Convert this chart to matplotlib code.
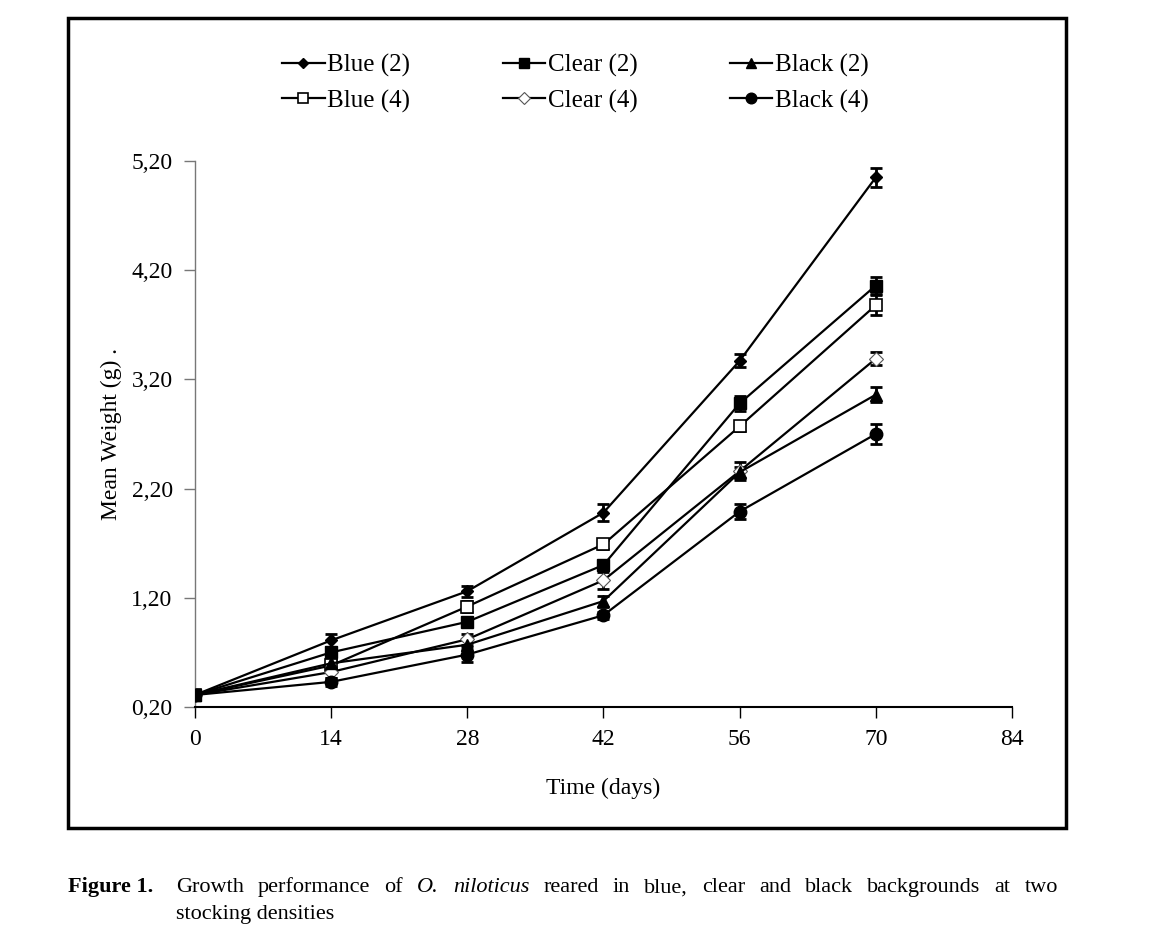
import matplotlib.pyplot as plt
from matplotlib.patches import Rectangle
from matplotlib.ticker import FuncFormatter

plt.rcParams['font.family'] = ['Liberation Serif', 'DejaVu Serif']

# Datos (peso medio en g)
days = [0, 14, 28, 42, 56, 70]
blue2 = [0.31, 0.81, 1.26, 1.98, 3.37, 5.05]
clear2 = [0.31, 0.70, 0.98, 1.50, 2.98, 4.06]
black2 = [0.31, 0.60, 0.77, 1.17, 2.35, 3.06]
blue4 = [0.31, 0.58, 1.12, 1.69, 2.77, 3.88]
clear4 = [0.31, 0.52, 0.82, 1.36, 2.36, 3.39]
black4 = [0.31, 0.43, 0.68, 1.04, 1.99, 2.70]

# desviaciones (barras de error)
blue2_err = [0.03, 0.06, 0.05, 0.08, 0.06, 0.09]
clear2_err = [0.03, 0.05, 0.04, 0.05, 0.07, 0.08]
black2_err = [0.03, 0.05, 0.05, 0.05, 0.05, 0.07]
blue4_err = [0.03, 0.05, 0.05, 0.04, 0.04, 0.09]
clear4_err = [0.03, 0.05, 0.05, 0.08, 0.08, 0.06]
black4_err = [0.03, 0.04, 0.07, 0.03, 0.07, 0.09]

# orden para que la leyenda quede en 3 columnas x 2 filas
series = [
    ("Blue (2)", blue2, blue2_err, dict(marker="D", ms=6, mfc="black", mec="black")),
    ("Blue (4)", blue4, blue4_err, dict(marker="s", ms=8, mfc="white", mec="black", mew=1.2)),
    ("Clear (2)", clear2, clear2_err, dict(marker="s", ms=8, mfc="black", mec="black")),
    ("Clear (4)", clear4, clear4_err, dict(marker="D", ms=7, mfc="white", mec="#555555", mew=0.8)),
    ("Black (2)", black2, black2_err, dict(marker="^", ms=8, mfc="black", mec="black")),
    ("Black (4)", black4, black4_err, dict(marker="o", ms=9, mfc="black", mec="black")),
]

fig = plt.figure(figsize=(11.74, 9.5), dpi=100)
ax = fig.add_axes([0.166, 0.2558, 0.696, 0.5747])

handles = []
for lab, vals, err, st in series:
    ax.errorbar(days, vals, yerr=err, fmt="none", ecolor="black", elinewidth=2,
                capsize=4.5, capthick=2, zorder=3)
    h, = ax.plot(days, vals, color="black", lw=1.6, label=lab, zorder=4, **st)
    handles.append(h)

ax.set_xlim(0, 84)
ax.set_ylim(0.2, 5.2)
ax.set_xticks(range(0, 85, 14))
ax.set_yticks([0.2, 1.2, 2.2, 3.2, 4.2, 5.2])
ax.yaxis.set_major_formatter(FuncFormatter(lambda v, p: f"{v:.2f}".replace(".", ",")))
ax.spines["top"].set_visible(False)
ax.spines["right"].set_visible(False)
ax.spines["left"].set_color("#777777")
ax.spines["left"].set_linewidth(1)
ax.spines["bottom"].set_linewidth(1.5)
ax.tick_params(direction="out", length=8, width=1, labelsize=17, pad=8)
ax.tick_params(axis="y", colors="#777777", labelcolor="black")
ax.set_xlabel("Time (days)", fontsize=17, labelpad=20)
ax.set_ylabel("Mean Weight (g) .", fontsize=17, labelpad=7)

leg = fig.legend(handles=handles, ncol=3, loc="upper center", bbox_to_anchor=(0.49, 0.967),
                 frameon=False, fontsize=18, handlelength=1.7, handletextpad=0.1,
                 columnspacing=3.7, labelspacing=0.5)
for h in leg.legend_handles:
    h.set_markersize(h.get_markersize() * 0.85)

# marco exterior
fig.patches.append(Rectangle((0.058, 0.128), 0.85, 0.853, transform=fig.transFigure,
                             fill=False, edgecolor="black", lw=2.5))

# pie de figura (primera linea justificada)
fig.text(0.058, 0.061, "Figure 1.", fontsize=16, fontweight="bold", va="baseline")
fig.canvas.draw()
r = fig.canvas.get_renderer()
words = [("Growth", "normal"), ("performance", "normal"), ("of", "normal"),
         ("O.", "italic"), ("niloticus", "italic"), ("reared", "normal"), ("in", "normal"),
         ("blue,", "normal"), ("clear", "normal"), ("and", "normal"), ("black", "normal"),
         ("backgrounds", "normal"), ("at", "normal"), ("two", "normal")]
x0, x1 = 0.15, 0.901
txts = [fig.text(0, 0.061, w, fontsize=16, style=s, va="baseline") for w, s in words]
widths = [t.get_window_extent(renderer=r).width / fig.bbox.width for t in txts]
gap = (x1 - x0 - sum(widths)) / (len(words) - 1)
x = x0
for t, w in zip(txts, widths):
    t.set_x(x)
    x += w + gap
fig.text(0.15, 0.033, "stocking densities", fontsize=16, va="baseline")

plt.savefig("out.png", dpi=100)
